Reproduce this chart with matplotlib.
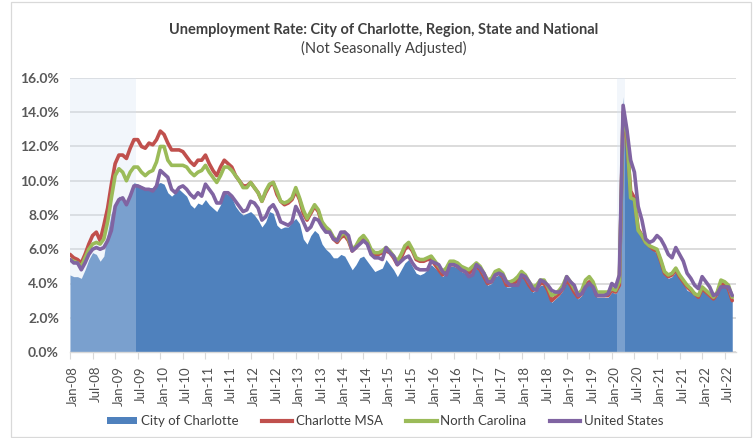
import numpy as np
import pandas as pd
import matplotlib
matplotlib.use("Agg")
import matplotlib.pyplot as plt
import matplotlib.transforms as mtransforms
from matplotlib.patches import Rectangle
from matplotlib.lines import Line2D
from matplotlib.patches import Patch

plt.rcParams['font.family'] = ['Lato', 'DejaVu Sans']

months = pd.date_range('2008-01-01', '2022-09-01', freq='MS')
month_labels = [d.strftime('%b-%y') for d in months]

city = [
    4.5, 4.4, 4.4, 4.3, 4.8, 5.4, 5.8, 5.7, 5.3, 5.6, 7.0, 8.1,
    8.6, 9.1, 8.9, 8.8, 9.3, 9.9, 9.8, 9.7, 9.5, 9.6, 9.6, 9.8,
    9.9, 9.8, 9.3, 9.1, 9.3, 9.5, 9.3, 9.1, 8.6, 8.4, 8.7, 8.6,
    8.9, 8.6, 8.4, 8.2, 8.6, 9.3, 9.2, 9.0, 8.5, 8.2, 8.0, 8.1,
    8.2, 8.0, 7.7, 7.3, 7.6, 8.2, 8.1, 7.4, 7.2, 7.3, 7.3, 7.6,
    7.8, 7.5, 6.6, 6.3, 6.8, 7.1, 6.9, 6.3, 6.0, 5.8, 5.5, 5.5,
    5.7, 5.6, 5.2, 4.8, 5.1, 5.5, 5.6, 5.3, 5.0, 4.7, 4.8, 4.9,
    5.4, 5.1, 4.8, 4.4, 4.8, 5.2, 5.4, 5.0, 4.6, 4.5, 4.6, 4.8,
    5.1, 4.9, 4.7, 4.4, 4.6, 5.0, 5.0, 4.9, 4.7, 4.6, 4.5, 4.7,
    4.9, 4.7, 4.3, 3.9, 4.0, 4.4, 4.5, 4.3, 3.8, 3.8, 3.9, 4.1,
    4.4, 4.2, 3.8, 3.5, 3.6, 3.9, 3.9, 3.5, 2.9, 3.1, 3.3, 3.6,
    4.1, 3.8, 3.4, 3.1, 3.3, 3.8, 4.0, 3.8, 3.2, 3.2, 3.2, 3.2,
    3.5, 3.4, 3.9, 14.9, 12.0, 9.2, 9.0, 7.2, 6.9, 6.3, 6.1, 6.0,
    5.7, 5.1, 4.5, 4.3, 4.4, 4.7, 4.3, 4.0, 3.6, 3.5, 3.3, 3.2,
    3.6, 3.4, 3.2, 3.1, 3.3, 3.9, 3.8, 3.6, 3.0,
]

msa = [
    5.7, 5.5, 5.4, 5.2, 5.7, 6.3, 6.8, 7.0, 6.5, 7.4, 8.4, 9.8,
    11.0, 11.5, 11.5, 11.3, 11.9, 12.4, 12.4, 12.0, 11.9, 12.2, 12.1, 12.4,
    12.9, 12.7, 12.2, 11.8, 11.8, 11.8, 11.7, 11.4, 11.1, 10.9, 11.2, 11.2,
    11.5, 11.0, 10.6, 10.3, 10.8, 11.2, 11.0, 10.8, 10.3, 10.0, 9.7, 9.7,
    9.9, 9.6, 9.3, 8.8, 9.3, 9.7, 9.9, 9.2, 8.8, 8.6, 8.7, 8.9,
    9.4, 8.9, 8.1, 7.7, 8.1, 8.5, 8.2, 7.5, 7.2, 7.0, 6.6, 6.4,
    6.7, 6.8, 6.5, 5.9, 6.1, 6.5, 6.7, 6.4, 5.9, 5.7, 5.7, 5.8,
    5.9, 5.8, 5.5, 5.1, 5.5, 6.0, 6.2, 5.9, 5.4, 5.3, 5.3, 5.4,
    5.4, 5.1, 4.8, 4.5, 4.8, 5.1, 5.1, 5.0, 4.8, 4.7, 4.6, 4.8,
    5.0, 4.8, 4.4, 4.0, 4.1, 4.5, 4.6, 4.4, 3.9, 3.9, 4.0, 4.2,
    4.5, 4.3, 3.9, 3.6, 3.7, 4.0, 4.0, 3.6, 3.0, 3.2, 3.4, 3.7,
    4.2, 3.9, 3.5, 3.2, 3.4, 3.9, 4.1, 3.9, 3.3, 3.3, 3.3, 3.3,
    3.6, 3.5, 3.9, 14.0, 12.4, 9.4, 9.0, 7.2, 6.8, 6.4, 6.2, 6.0,
    5.9, 5.3, 4.6, 4.4, 4.5, 4.8, 4.4, 4.1, 3.8, 3.6, 3.4, 3.2,
    3.7, 3.5, 3.3, 3.1, 3.4, 4.0, 3.9, 3.7, 3.0,
]

nc = [
    5.4, 5.3, 5.2, 5.0, 5.5, 6.0, 6.3, 6.4, 6.3, 6.6, 7.6, 9.0,
    10.3, 10.7, 10.5, 10.0, 10.5, 10.8, 10.8, 10.5, 10.3, 10.5, 10.6, 11.1,
    12.0, 12.0, 11.2, 10.9, 10.9, 10.9, 10.9, 10.8, 10.5, 10.3, 10.5, 10.6,
    10.9, 10.5, 10.2, 9.9, 10.3, 10.8, 10.8, 10.6, 10.3, 10.0, 9.6, 9.6,
    9.9, 9.6, 9.3, 8.8, 9.4, 9.8, 9.9, 9.4, 8.8, 8.7, 8.8, 9.0,
    9.6, 9.0, 8.3, 7.8, 8.2, 8.6, 8.3, 7.6, 7.3, 7.1, 6.7, 6.5,
    6.8, 7.0, 6.6, 6.0, 6.2, 6.6, 6.8, 6.5, 6.0, 5.8, 5.8, 5.9,
    6.1, 5.9, 5.6, 5.3, 5.7, 6.2, 6.4, 6.0, 5.5, 5.4, 5.4, 5.5,
    5.6, 5.3, 5.0, 4.7, 4.9, 5.3, 5.3, 5.2, 5.0, 4.9, 4.8, 5.0,
    5.2, 5.0, 4.6, 4.2, 4.3, 4.7, 4.8, 4.6, 4.1, 4.1, 4.2, 4.4,
    4.7, 4.5, 4.1, 3.8, 3.9, 4.2, 4.2, 3.8, 3.3, 3.4, 3.6, 3.9,
    4.4, 4.1, 3.7, 3.4, 3.6, 4.2, 4.4, 4.1, 3.5, 3.5, 3.5, 3.5,
    3.7, 3.6, 4.1, 13.8, 12.8, 9.0, 8.9, 7.1, 6.8, 6.4, 6.2, 6.1,
    6.0, 5.4, 4.7, 4.5, 4.6, 4.9, 4.5, 4.2, 3.9, 3.7, 3.4, 3.3,
    3.8, 3.6, 3.4, 3.2, 3.5, 4.2, 4.1, 3.9, 3.2,
]

us = [
    5.4, 5.2, 5.2, 4.8, 5.2, 5.7, 6.0, 6.1, 6.0, 6.1, 6.5, 7.1,
    8.5, 8.9, 9.0, 8.6, 9.1, 9.7, 9.7, 9.6, 9.5, 9.5, 9.4, 9.7,
    10.6, 10.4, 10.2, 9.5, 9.3, 9.6, 9.7, 9.5, 9.2, 9.0, 9.3, 9.1,
    9.8, 9.5, 9.2, 8.7, 8.7, 9.3, 9.3, 9.1, 8.8, 8.5, 8.2, 8.3,
    8.8, 8.7, 8.4, 7.7, 7.9, 8.4, 8.6, 8.2, 7.6, 7.5, 7.4, 7.6,
    8.5, 8.1, 7.6, 7.1, 7.3, 7.8, 7.7, 7.3, 7.0, 7.0, 6.6, 6.5,
    7.0, 7.0, 6.8, 5.9, 6.1, 6.3, 6.5, 6.3, 5.7, 5.5, 5.5, 5.4,
    6.1, 5.8, 5.6, 5.1, 5.3, 5.5, 5.6, 5.2, 4.9, 4.8, 4.8, 4.8,
    5.3, 5.2, 5.1, 4.7, 4.5, 5.1, 5.1, 5.0, 4.8, 4.7, 4.4, 4.5,
    5.1, 4.9, 4.6, 4.1, 4.1, 4.5, 4.6, 4.5, 4.1, 3.9, 3.9, 3.9,
    4.5, 4.4, 4.1, 3.7, 3.6, 4.2, 4.1, 3.9, 3.6, 3.5, 3.5, 3.7,
    4.4, 4.1, 3.9, 3.3, 3.4, 3.8, 4.0, 3.8, 3.3, 3.3, 3.3, 3.4,
    4.0, 3.8, 4.5, 14.4, 13.0, 11.2, 10.5, 8.5, 7.7, 6.6, 6.4, 6.5,
    6.8, 6.6, 6.2, 5.7, 5.5, 6.1, 5.7, 5.3, 4.6, 4.3, 3.9, 3.7,
    4.4, 4.1, 3.8, 3.3, 3.4, 3.8, 3.8, 3.8, 3.3,
]

recessions = [("Jan-08", "Jun-09"), ("Mar-20", "Apr-20")]

series_names = ["City of Charlotte", "Charlotte MSA", "North Carolina", "United States"]
colors = ["#4f81bd", "#c0504d", "#9bbb59", "#8064a2"]

title = "Unemployment Rate: City of Charlotte, Region, State and National"
subtitle = "(Not Seasonally Adjusted)"

W, H = 755, 438
fig = plt.figure(figsize=(W / 100, H / 100), dpi=100)
fig.patch.set_facecolor("white")

# outer chart border
fig.add_artist(Rectangle((10.5 / W, 1.5 / H), (751 - 10.5) / W, (436.5 - 1.5) / H,
                         transform=fig.transFigure, fill=False,
                         edgecolor="#d9d9d9", linewidth=0.9))

ax = fig.add_axes([70 / W, 1 - 352 / H, (736 - 70) / W, (352 - 78) / H])
x = np.arange(len(months))

ax.fill_between(x, city, 0, color=colors[0], linewidth=0, zorder=1)

for start, end in recessions:
    i0 = month_labels.index(start)
    i1 = month_labels.index(end)
    idx = np.arange(i0, i1 + 1)
    ax.bar(idx, np.full(len(idx), 16.0), width=1.0, bottom=0,
           color=(215 / 255, 227 / 255, 243 / 255), alpha=0.32,
           linewidth=0, zorder=2)

for vals, c in zip([msa, nc, us], colors[1:]):
    ax.plot(x, vals, color=c, linewidth=2.6, zorder=3,
            solid_joinstyle="round", solid_capstyle="round")

ax.set_xlim(0, len(months))
ax.set_ylim(0, 16)
ax.set_yticks(np.arange(0, 16.1, 2))
ax.set_yticklabels([f"{v:.1f}%" for v in np.arange(0, 16.1, 2)])
ax.yaxis.grid(True, color="#d9d9d9", linewidth=1.3, zorder=0)
ax.set_axisbelow(True)

tick_idx = x[::6]
ax.set_xticks(tick_idx)
ax.set_xticklabels([month_labels[i] for i in tick_idx], rotation=90)

for s in ["top", "right", "left"]:
    ax.spines[s].set_visible(False)
ax.spines["bottom"].set_color("#d9d9d9")
ax.spines["bottom"].set_linewidth(1.0)
ax.spines["bottom"].set_zorder(4)

ax.tick_params(axis="y", length=0, pad=8, labelsize=10, labelcolor="#595959")
ax.tick_params(axis="x", length=5, width=0.8, color="#d9d9d9", pad=5,
               labelsize=9.5, labelcolor="#505050")
for lbl in ax.get_yticklabels():
    lbl.set_fontweight("bold")
shift = mtransforms.ScaledTranslation(3.2 / 100, 0, fig.dpi_scale_trans)
for lbl in ax.get_xticklabels():
    lbl.set_transform(lbl.get_transform() + shift)

fig.text(384 / W, 1 - 30 / H, title, ha="center", va="center",
         fontsize=10.5, fontweight="bold", color="#404040")
fig.text(384 / W, 1 - 48 / H, subtitle, ha="center", va="center",
         fontsize=10.5, color="#404040")

handles = [Patch(facecolor=colors[0], edgecolor="none")] + \
          [Line2D([0], [0], color=c, linewidth=3) for c in colors[1:]]
leg = fig.legend(handles, series_names, loc="center", ncol=4,
                 bbox_to_anchor=(385 / W, 1 - 421 / H), frameon=False,
                 fontsize=9.5, handlelength=2.3, handleheight=0.5,
                 columnspacing=1.8, handletextpad=0.25)
for t in leg.get_texts():
    t.set_color("#404040")

fig.savefig("out.png", dpi=100)
